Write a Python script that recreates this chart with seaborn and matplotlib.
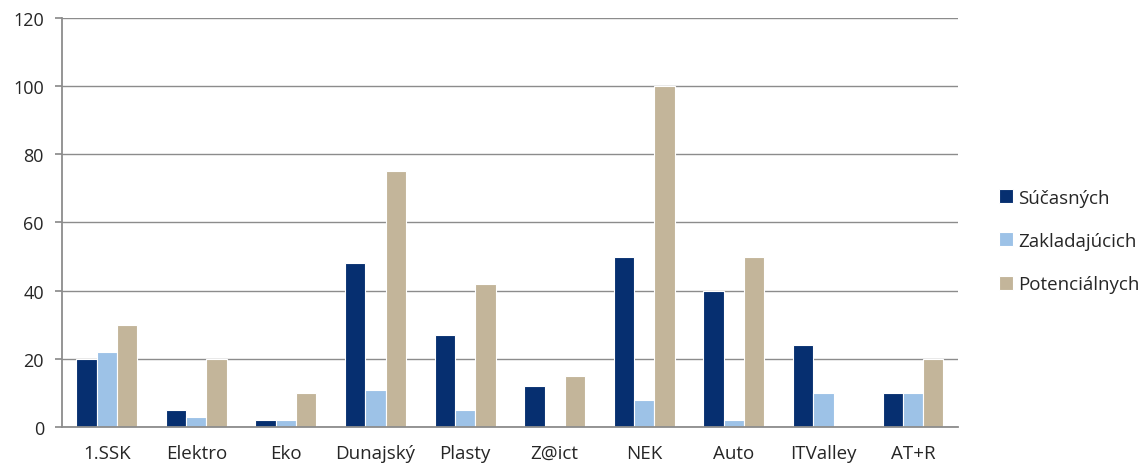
import matplotlib
matplotlib.use("Agg")
import matplotlib.pyplot as plt
import seaborn as sns
import pandas as pd

categories = ["1.SSK", "Elektro", "Eko", "Dunajský", "Plasty", "Z@ict", "NEK", "Auto", "ITValley", "AT+R"]
sucasnych = [20, 5, 2, 48, 27, 12, 50, 40, 24, 10]
zakladajucich = [22, 3, 2, 11, 5, 0, 8, 2, 10, 10]
potencialnych = [30, 20, 10, 75, 42, 15, 100, 50, 0, 20]
series_names = ["Súčasných", "Zakladajúcich", "Potenciálnych"]
colors = ["#062F70", "#9DC2E7", "#C3B59A"]

rows = []
for name, vals in zip(series_names, [sucasnych, zakladajucich, potencialnych]):
    for c, v in zip(categories, vals):
        rows.append({"cat": c, "series": name, "value": v})
df = pd.DataFrame(rows)

sns.set_theme(style="white")
plt.rcParams['font.family'] = ['Open Sans', 'DejaVu Sans']

fig = plt.figure(figsize=(11.43, 4.64), dpi=100)
ax = fig.add_axes([0.0542, 0.0776, 0.7838, 0.8815])

sns.barplot(data=df, x="cat", y="value", hue="series", order=categories,
            hue_order=series_names, palette=colors, width=0.68,
            edgecolor="white", linewidth=0.8, saturation=1, ax=ax, errorbar=None)

ax.set_ylim(0, 120)
ax.set_yticks(range(0, 121, 20))
ax.set_xlim(-0.5, len(categories) - 0.5)
ax.yaxis.grid(True, color="#8c8c8c", linewidth=1.0)
ax.set_axisbelow(True)
for s in ["top", "right"]:
    ax.spines[s].set_visible(False)
for s in ["left", "bottom"]:
    ax.spines[s].set_color("#8c8c8c")
    ax.spines[s].set_linewidth(1.3)
ax.tick_params(axis="y", left=True, length=5, color="#8c8c8c", labelsize=13, pad=8)
ax.tick_params(axis="x", bottom=False, labelsize=13.5, pad=6)
ax.set_xlabel("")
ax.set_ylabel("")

ax.legend(loc="center left", bbox_to_anchor=(1.01, 0.455), frameon=False,
          fontsize=13.5, handlelength=0.75, handleheight=0.75, handletextpad=0.3,
          labelspacing=1.35, borderaxespad=1.3)

fig.savefig("out.png", dpi=100)
